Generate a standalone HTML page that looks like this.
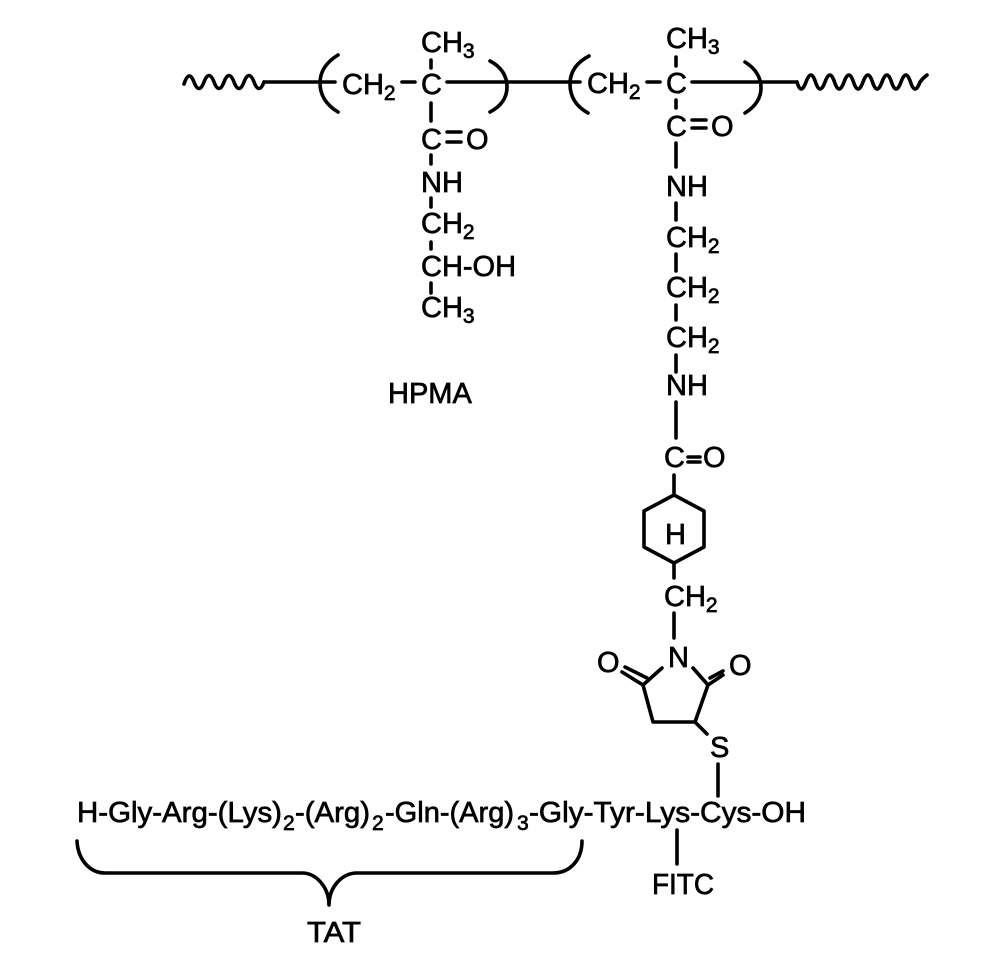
<!DOCTYPE html>
<html>
<head>
<meta charset="utf-8">
<style>
html,body{margin:0;padding:0;background:#fff;}
svg{display:block;filter:blur(.35px);}
text{font-family:"Liberation Sans",sans-serif;font-size:29px;fill:#000;stroke:#000;stroke-width:.7;}
text.s{font-size:21px;}
tspan{font-size:21px;}
.b{fill:none;stroke:#000;stroke-width:3.6;stroke-linecap:round;stroke-linejoin:round;}
</style>
</head>
<body>
<svg width="1000" height="962" viewBox="0 0 1000 962" xmlns="http://www.w3.org/2000/svg">
<rect width="1000" height="962" fill="#fff"/>
<!-- chain -->
<g class="b">
<path d="M184 84Q189 69 194 82T204 82T214 82T224 82T234 82T244 82T254 82T264 82"/>
<path d="M264 82H335"/>
<path d="M338 55Q320 66 320 83Q320 101 338 112"/>
<path d="M402 82H415"/>
<path d="M447 82H580"/>
<path d="M490 61Q507 70 507 87Q507 103 490 112"/>
<path d="M431 60V68M431 103V121M447 132H461M447 142H461M431 155V164M431 198V207M431 242V249M431 283V293"/>
<path d="M589 56Q570 66 570 84Q570 103 588 113"/>
<path d="M647 82H660"/>
<path d="M692 82H797"/>
<path d="M745 62Q761 72 761 88Q761 103 745 113"/>
<path d="M797 82Q801 96 806 82T815.5 82T825 82T834.5 82T844 82T853.5 82T863 82T872.5 82T882 82T891.5 82T901 82T910.5 82T920 82Q923 78 927 75"/>
<path d="M676 57V66M676 100V108M692 120H706M692 128H706M676 143V167M676 203V220M676 254V271M676 305V320M676 355V372M676 402V438"/>
<path d="M688 457H700M688 462H700M674 475V495"/>
<path d="M674 495L704 511V547L674 563L644 547V511ZM674 563V578M674 613V638"/>
<path d="M662 668L643 685L653 722H695L708 685L693 668"/>
<path d="M643 685L622 672M647 678L625 667M708 685L723 675M710 678L723 671"/>
<path d="M695 722L707 734M718 764V796"/>
<path d="M77 841C78 860 90 873 105 873H302C316 873 329 887 329 905C329 887 342 873 357 873H553C570 873 582 860 582 841"/>
<path d="M677 830V864"/>
</g>
<!-- left unit -->
<text x="421" y="52">CH<tspan dy="6">3</tspan></text>
<text x="342" y="94">CH<tspan dy="6">2</tspan></text>
<text x="421" y="94">C</text>
<text x="421" y="149">C</text>
<text x="466" y="149">O</text>
<text x="421" y="192">NH</text>
<text x="421" y="233">CH<tspan dy="6">2</tspan></text>
<text x="421" y="276">CH-OH</text>
<text x="421" y="317">CH<tspan dy="6">3</tspan></text>
<text x="388" y="403">HPMA</text>
<!-- right unit -->
<text x="666" y="48">CH<tspan dy="6">3</tspan></text>
<text x="587" y="93">CH<tspan dy="6">2</tspan></text>
<text x="666" y="93">C</text>
<text x="666" y="136">C</text>
<text x="711" y="136">O</text>
<text x="666" y="196">NH</text>
<text x="666" y="247">CH<tspan dy="6">2</tspan></text>
<text x="666" y="297">CH<tspan dy="6">2</tspan></text>
<text x="666" y="347">CH<tspan dy="6">2</tspan></text>
<text x="666" y="395">NH</text>
<text x="664" y="467">C</text>
<text x="703" y="467">O</text>
<text x="665" y="544">H</text>
<text x="664" y="606">CH<tspan dy="6">2</tspan></text>
<text x="668" y="667">N</text>
<text x="597" y="672">O</text>
<text x="729" y="675">O</text>
<text x="710" y="757">S</text>
<!-- peptide -->
<text x="77" y="822" textLength="205" lengthAdjust="spacingAndGlyphs">H-Gly-Arg-(Lys)</text>
<text class="s" x="283" y="830">2</text>
<text x="295" y="822" textLength="75" lengthAdjust="spacingAndGlyphs">-(Arg)</text>
<text class="s" x="372" y="830">2</text>
<text x="385" y="822" textLength="129" lengthAdjust="spacingAndGlyphs">-Gln-(Arg)</text>
<text class="s" x="517" y="830">3</text>
<text x="529" y="822" textLength="277" lengthAdjust="spacingAndGlyphs">-Gly-Tyr-Lys-Cys-OH</text>
<text x="652" y="894" textLength="62" lengthAdjust="spacingAndGlyphs">FITC</text>
<text x="307" y="942" textLength="54" lengthAdjust="spacingAndGlyphs">TAT</text>
</svg>
</body>
</html>
